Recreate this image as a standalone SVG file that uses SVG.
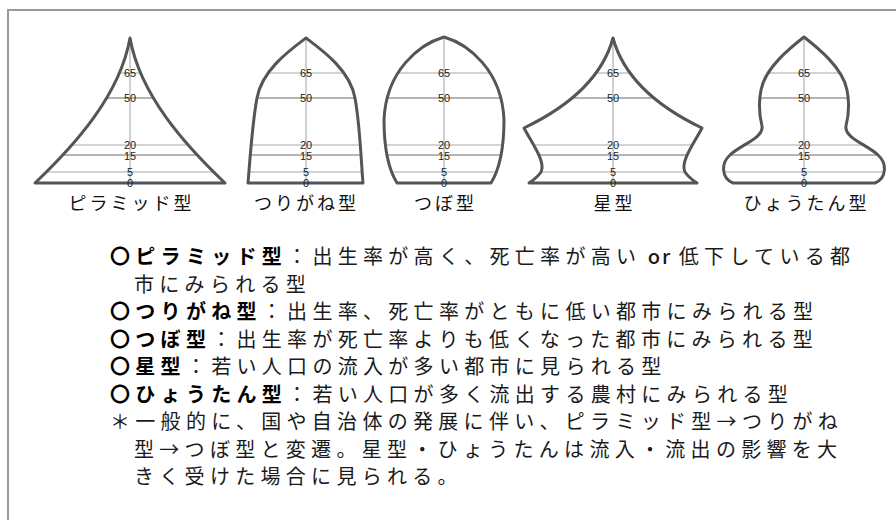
<svg xmlns="http://www.w3.org/2000/svg" xmlns:xlink="http://www.w3.org/1999/xlink" width="896" height="520" viewBox="0 0 896 520">
<style>
.frame{fill:none;stroke:#9a9a9a;stroke-width:2}
.outline{fill:none;stroke:#555;stroke-width:3;stroke-linejoin:round}
.lt{stroke:#c4c4c4;stroke-width:1.5}
.dk{stroke:#6a6a6a;stroke-width:1}
.axis{stroke:#c0c0c0;stroke-width:1.5}
.lbl{font-family:"Liberation Sans",Arial,sans-serif;font-size:11px;fill:#222;text-anchor:middle}
.cap{font-family:"Noto Sans CJK JP",sans-serif;font-size:18px;letter-spacing:3px;fill:#111;text-anchor:middle}
.body{font-family:"Noto Sans CJK JP",sans-serif;font-size:20px;letter-spacing:5.3px;fill:#1a1a1a}
.b{font-weight:bold;fill:#000}
.or{letter-spacing:2px;font-weight:500}
</style>
<defs>
<path id="p-pyr" d="M130,38 C120,95 75,145 35,183 L225,183 C185,145 140,95 130,38 Z"/>
<path id="p-tsu" d="M306,38 C290,50 262,70 257,98 C252,125 250,160 248,183 L363,183 C361,160 360,125 355,98 C350,70 322,50 306,38 Z"/>
<path id="p-tsubo" d="M444,37 C420,44 386,70 384,120 C384,150 389,170 397,183 L491,183 C499,170 504,150 504,120 C502,70 468,44 444,37 Z"/>
<path id="p-star" d="M613,38 C603,75 572,105 524,128 C533,145 546,162 541,172 C537,178 532,181 529,183 L697,183 C694,181 689,178 685,172 C680,162 693,145 702,128 C654,105 623,75 613,38 Z"/>
<path id="p-hyo" d="M804,37 C790,48 765,68 761,90 C758,105 760,118 762,126 C764,138 740,145 730,155 C721,163 721,178 733,183 L875,183 C887,178 887,163 878,155 C868,145 844,138 846,126 C848,118 850,105 847,90 C843,68 818,48 804,37 Z"/>
<clipPath id="c-pyr"><use xlink:href="#p-pyr"/></clipPath>
<clipPath id="c-tsu"><use xlink:href="#p-tsu"/></clipPath>
<clipPath id="c-tsubo"><use xlink:href="#p-tsubo"/></clipPath>
<clipPath id="c-star"><use xlink:href="#p-star"/></clipPath>
<clipPath id="c-hyo"><use xlink:href="#p-hyo"/></clipPath>
<g id="levels">
<line class="lt" x1="0" y1="73" x2="896" y2="73"/>
<line class="dk" x1="0" y1="98" x2="896" y2="98"/>
<line class="lt" x1="0" y1="145" x2="896" y2="145"/>
<line class="dk" x1="0" y1="155" x2="896" y2="155"/>
<line class="lt" x1="0" y1="172" x2="896" y2="172"/>
</g>
</defs>

<rect class="frame" x="8" y="10" width="900" height="520"/>

<g id="pyramid">
<use xlink:href="#levels" clip-path="url(#c-pyr)"/>
<line class="axis" x1="130" y1="40" x2="130" y2="183"/>
<use xlink:href="#p-pyr" class="outline"/>
<g class="lbl"><text x="130" y="77">65</text><text x="130" y="102">50</text><text x="130" y="148.5">20</text><text x="130" y="159.5">15</text><text x="130" y="176">5</text><text x="130" y="187">0</text></g>
<text class="cap" x="131.5" y="210">ピラミッド型</text>
</g>

<g id="tsurigane">
<use xlink:href="#levels" clip-path="url(#c-tsu)"/>
<line class="axis" x1="306" y1="40" x2="306" y2="183"/>
<use xlink:href="#p-tsu" class="outline"/>
<g class="lbl"><text x="306" y="77">65</text><text x="306" y="102">50</text><text x="306" y="148.5">20</text><text x="306" y="159.5">15</text><text x="306" y="176">5</text><text x="306" y="187">0</text></g>
<text class="cap" x="306.5" y="210">つりがね型</text>
</g>

<g id="tsubo">
<use xlink:href="#levels" clip-path="url(#c-tsubo)"/>
<line class="axis" x1="444" y1="39" x2="444" y2="183"/>
<use xlink:href="#p-tsubo" class="outline"/>
<g class="lbl"><text x="444" y="77">65</text><text x="444" y="102">50</text><text x="444" y="148.5">20</text><text x="444" y="159.5">15</text><text x="444" y="176">5</text><text x="444" y="187">0</text></g>
<text class="cap" x="445.5" y="210">つぼ型</text>
</g>

<g id="star">
<use xlink:href="#levels" clip-path="url(#c-star)"/>
<line class="axis" x1="613" y1="40" x2="613" y2="183"/>
<use xlink:href="#p-star" class="outline"/>
<g class="lbl"><text x="613" y="77">65</text><text x="613" y="102">50</text><text x="613" y="148.5">20</text><text x="613" y="159.5">15</text><text x="613" y="176">5</text><text x="613" y="187">0</text></g>
<text class="cap" x="614.5" y="210">星型</text>
</g>

<g id="hyoutan">
<use xlink:href="#levels" clip-path="url(#c-hyo)"/>
<line class="axis" x1="804" y1="39" x2="804" y2="183"/>
<use xlink:href="#p-hyo" class="outline"/>
<g class="lbl"><text x="804" y="77">65</text><text x="804" y="102">50</text><text x="804" y="148.5">20</text><text x="804" y="159.5">15</text><text x="804" y="176">5</text><text x="804" y="187">0</text></g>
<text class="cap" x="806.5" y="210">ひょうたん型</text>
</g>

<g id="notes" class="body">
<text x="110" y="264"><tspan class="b">〇ピラミッド型</tspan>：出生率が高く、死亡率が高い<tspan class="or">&#160;or&#160;</tspan>低下している都</text>
<text x="134" y="291.5">市にみられる型</text>
<text x="110" y="319"><tspan class="b">〇つりがね型</tspan>：出生率、死亡率がともに低い都市にみられる型</text>
<text x="110" y="346.5"><tspan class="b">〇つぼ型</tspan>：出生率が死亡率よりも低くなった都市にみられる型</text>
<text x="110" y="374"><tspan class="b">〇星型</tspan>：若い人口の流入が多い都市に見られる型</text>
<text x="110" y="401.5"><tspan class="b">〇ひょうたん型</tspan>：若い人口が多く流出する農村にみられる型</text>
<text x="110" y="429">＊一般的に、国や自治体の発展に伴い、ピラミッド型→つりがね</text>
<text x="134" y="456.5">型→つぼ型と変遷。星型・ひょうたんは流入・流出の影響を大</text>
<text x="134" y="484">きく受けた場合に見られる。</text>
</g>
</svg>
